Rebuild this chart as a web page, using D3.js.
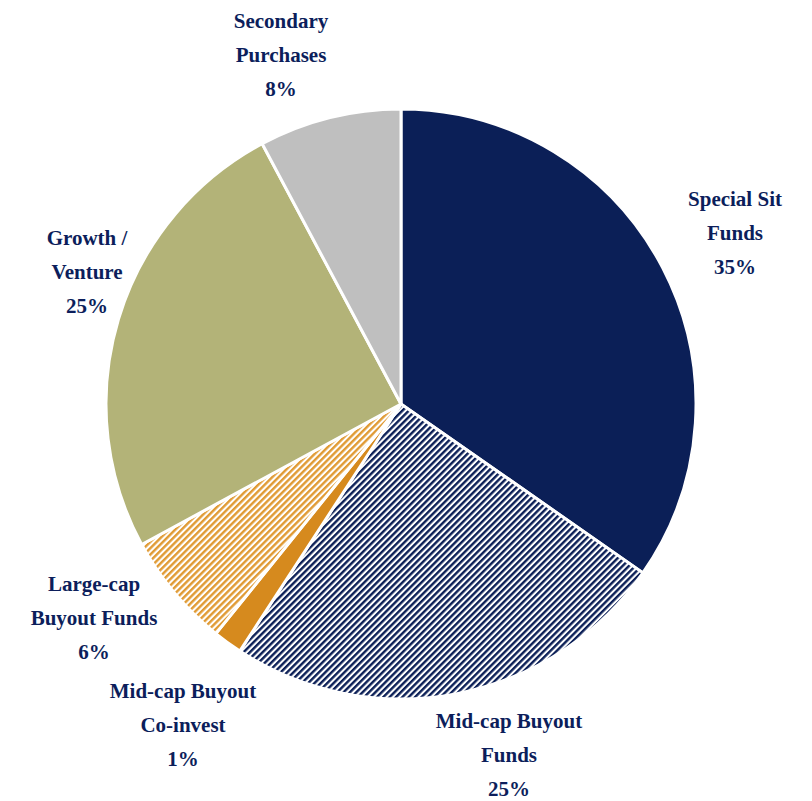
<!DOCTYPE html>
<html>
<head>
<meta charset="utf-8">
<script src="https://cdn.jsdelivr.net/npm/d3@7"></script>
<style>
  body { margin: 0; background: #fff; }
  text { font-family: "Liberation Serif", "Tinos", "Times New Roman", "DejaVu Serif", serif; font-weight: bold; fill: #0c1e5b; }
</style>
</head>
<body>
<div id="chart"></div>
<script>
// data
var categories = ["Special Sit Funds", "Mid-cap Buyout Funds", "Mid-cap Buyout Co-invest",
                  "Large-cap Buyout Funds", "Growth / Venture", "Secondary Purchases"];
var values = [34.7, 24.5, 1.6, 6.3, 25.1, 7.8];
var pctLabels = ["35%", "25%", "1%", "6%", "25%", "8%"];
var labelLines = [
    ["Special Sit", "Funds"],
    ["Mid-cap Buyout", "Funds"],
    ["Mid-cap Buyout", "Co-invest"],
    ["Large-cap", "Buyout Funds"],
    ["Growth /", "Venture"],
    ["Secondary", "Purchases"]
];

var svgWidth = 812;
var svgHeight = 801;
var cx = 401, cy = 404, radius = 295;

var svg = d3.select("#chart")
    .append("svg")
    .attr("width", svgWidth)
    .attr("height", svgHeight);

// hatch patterns
var defs = svg.append("defs");
function hatch(id, color) {
    var p = defs.append("pattern")
        .attr("id", id)
        .attr("patternUnits", "userSpaceOnUse")
        .attr("width", 4.5)
        .attr("height", 4.5)
        .attr("patternTransform", "rotate(45)");
    p.append("rect").attr("width", 4.5).attr("height", 4.5).attr("fill", "#fff");
    p.append("rect").attr("width", 2.4).attr("height", 4.5).attr("fill", color);
}
hatch("hatchNavy", "#0b1f57");
hatch("hatchOrange", "#e09a33");

var fills = ["#0b1f57", "url(#hatchNavy)", "#d68a1e", "url(#hatchOrange)", "#b3b378", "#bfbfbf"];

var pie = d3.pie().sort(null).value(d => d);
var arc = d3.arc().innerRadius(0).outerRadius(radius);

var chartGroup = svg.append("g")
    .attr("transform", `translate(${cx}, ${cy})`);

chartGroup.selectAll("path")
    .data(pie(values))
    .enter()
    .append("path")
    .attr("d", arc)
    .attr("fill", (d, i) => fills[i])
    .attr("stroke", "#fff")
    .attr("stroke-width", 3)
    .attr("stroke-linejoin", "miter");

// label anchors (centre of each label block)
var labelPos = [[735, 233], [509, 755], [183, 725], [94, 618], [87, 272], [281, 55]];
var lineH = 34;

var labels = svg.append("g")
    .selectAll("text")
    .data(categories)
    .enter()
    .append("text")
    .attr("text-anchor", "middle")
    .attr("font-size", "21px");

labels.each(function(d, i) {
    var lines = labelLines[i].concat([pctLabels[i]]);
    var t = d3.select(this);
    var y0 = labelPos[i][1] - lineH * (lines.length - 1) / 2 + 7;
    lines.forEach(function(l, j) {
        t.append("tspan")
            .attr("x", labelPos[i][0])
            .attr("y", y0 + j * lineH)
            .text(l);
    });
});
</script>
</body>
</html>
